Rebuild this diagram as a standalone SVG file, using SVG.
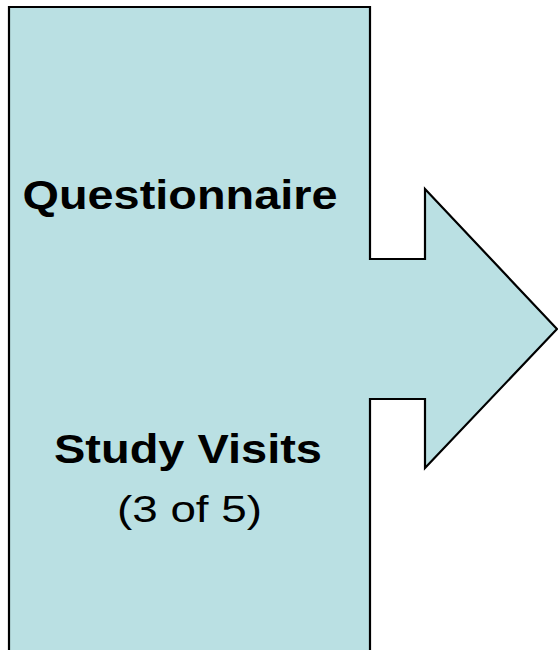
<svg xmlns="http://www.w3.org/2000/svg" width="558" height="650" viewBox="0 0 558 650">
<style>
.shape{fill:#BAE0E3;stroke:#000;stroke-width:2.2;stroke-linejoin:miter}
.b{font-family:"Liberation Sans",Arial,sans-serif;font-weight:bold;font-size:40px;fill:#000}
.r{font-family:"Liberation Sans",Arial,sans-serif;font-size:37px;fill:#000}
</style>
<g id="study-shape">
<path class="shape" d="M9,7 H370 V259 H425 V189 L557,329 L425,468 V399 H370 V655 H9 Z"/>
<text class="b" x="22.5" y="209" textLength="315" lengthAdjust="spacingAndGlyphs">Questionnaire</text>
<text class="b" x="54" y="463" textLength="268" lengthAdjust="spacingAndGlyphs">Study Visits</text>
<text class="r" x="117" y="522" textLength="145" lengthAdjust="spacingAndGlyphs">(3 of 5)</text>
</g>
</svg>
